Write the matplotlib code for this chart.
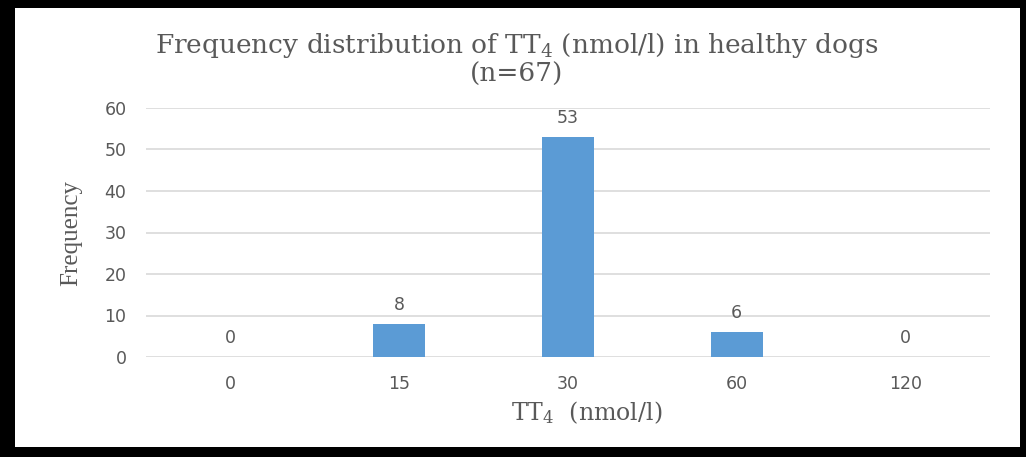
import matplotlib
matplotlib.use("Agg")
import matplotlib.pyplot as plt
from matplotlib.patches import Rectangle

# TT4 bins and counts
bins = ['0', '15', '30', '60', '120']
counts = [0, 8, 53, 6, 0]

plt.rcParams['mathtext.fontset'] = 'custom'
plt.rcParams['mathtext.rm'] = 'DejaVu Serif'
plt.rcParams['mathtext.it'] = 'DejaVu Serif:italic'

W, H = 1026, 457
text_gray = '#595959'
bar_color = '#5b9bd5'

fig = plt.figure(figsize=(W / 100, H / 100), dpi=100)
fig.patch.set_facecolor('black')
# white panel inside the black frame
fig.add_artist(Rectangle((15 / W, 1 - 447 / H), (1020 - 15) / W, (447 - 8) / H,
                         transform=fig.transFigure, facecolor='white', edgecolor='none', zorder=-5))

ax = fig.add_axes([146 / W, 1 - 357 / H, (990 - 146) / W, (357 - 108) / H])
ax.set_facecolor('white')

x = range(len(bins))
ax.bar(x, counts, width=0.31, color=bar_color, zorder=3)
for xi, c in zip(x, counts):
    ax.annotate(str(c), (xi, c), xytext=(0, 7), textcoords='offset points',
                ha='center', va='bottom', fontsize=12.5, color=text_gray, family='DejaVu Sans')

ax.set_xlim(-0.5, len(bins) - 0.5)
ax.set_ylim(0, 60)
ax.set_yticks(range(0, 61, 10))
ax.set_xticks(list(x))
ax.set_xticklabels(bins)
ax.yaxis.grid(True, color='#d9d9d9', linewidth=1.2, zorder=0)
ax.tick_params(axis='both', length=0, labelsize=12.5, labelcolor=text_gray)
ax.tick_params(axis='x', pad=13)
ax.tick_params(axis='y', pad=14)
for s in ax.spines.values():
    s.set_visible(False)

fig.text(517 / W, 1 - 31 / H, 'Frequency distribution of TT$_4$ (nmol/l) in healthy dogs\n(n=67)',
         ha='center', va='top', fontsize=19, family='DejaVu Serif', color=text_gray,
         linespacing=1.08)
ax.set_xlabel('TT$_4$  (nmol/l)', fontsize=17, family='DejaVu Serif', color=text_gray)
ax.xaxis.set_label_coords((587 - 146) / (990 - 146), -0.17)
ax.set_ylabel('Frequency', fontsize=18, family='Liberation Serif', color=text_gray, labelpad=16)

fig.savefig('out.png', dpi=100, facecolor=fig.get_facecolor())
